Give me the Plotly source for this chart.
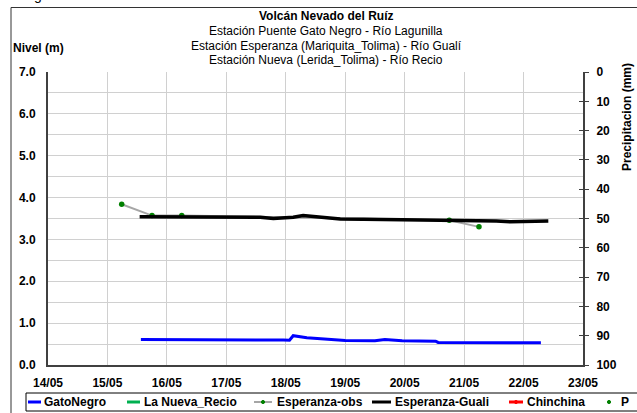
import plotly.graph_objects as go

# GatoNegro level (m)
gato_t = ["2012-05-15 13:30", "2012-05-16 02:40", "2012-05-17 01:40", "2012-05-17 23:00",
          "2012-05-18 01:30", "2012-05-18 03:00", "2012-05-18 08:30", "2012-05-18 17:30",
          "2012-05-19 00:00", "2012-05-19 12:00", "2012-05-19 16:00", "2012-05-19 23:00",
          "2012-05-20 12:30", "2012-05-20 13:30", "2012-05-21 05:30", "2012-05-22 07:00"]
gato_v = [0.61, 0.61, 0.60, 0.595, 0.59, 0.70, 0.65, 0.61,
          0.585, 0.58, 0.61, 0.58, 0.57, 0.54, 0.53, 0.53]

# Esperanza-Guali level (m)
guali_t = ["2012-05-15 13:00", "2012-05-16 13:30", "2012-05-16 17:00", "2012-05-17 05:30",
           "2012-05-17 13:40", "2012-05-17 19:00", "2012-05-17 23:00", "2012-05-18 03:00",
           "2012-05-18 07:00", "2012-05-18 11:00", "2012-05-18 22:00", "2012-05-19 07:30",
           "2012-05-20 01:00", "2012-05-20 10:20", "2012-05-20 17:45", "2012-05-21 02:30",
           "2012-05-21 13:00", "2012-05-21 18:40", "2012-05-22 02:40", "2012-05-22 10:00"]
guali_v = [3.54, 3.54, 3.52, 3.53, 3.53, 3.50, 3.51, 3.53,
           3.57, 3.55, 3.49, 3.48, 3.47, 3.46, 3.46, 3.45,
           3.44, 3.42, 3.43, 3.44]

# Esperanza observed readings (m)
obs_t = ["2012-05-15 05:45", "2012-05-15 18:00", "2012-05-16 06:00",
         "2012-05-20 18:00", "2012-05-21 06:00"]
obs_v = [3.84, 3.57, 3.57, 3.46, 3.30]

day_ticks = ["2012-05-%02d" % d for d in range(14, 24)]
day_labels = ["%02d/05" % d for d in range(14, 24)]

font = "Liberation Sans, Arial, sans-serif"
W, H = 637, 413
L, R, T, B = 48, 54, 72, 48


def px(x):  # figure pixel -> paper x
    return (x - L) / (W - L - R)


def py(y):  # figure pixel -> paper y
    return (H - B - y) / (H - T - B)


fig = go.Figure()
fig.add_trace(go.Scatter(x=obs_t, y=obs_v, name="Esperanza-obs", mode="lines+markers",
                         line=dict(color="#a6a6a6", width=2),
                         marker=dict(color="#008000", size=5.5)))
fig.add_trace(go.Scatter(x=guali_t, y=guali_v, name="Esperanza-Guali", mode="lines",
                         line=dict(color="#000000", width=3.5)))
fig.add_trace(go.Scatter(x=gato_t, y=gato_v, name="GatoNegro", mode="lines",
                         line=dict(color="#0000ff", width=3)))
fig.add_trace(go.Scatter(x=[None], y=[None], name="P", mode="markers", yaxis="y2",
                         marker=dict(color="#008000", size=3)))
fig.add_trace(go.Scatter(x=[None], y=[None], showlegend=False, yaxis="y3"))

right_axis = dict(overlaying="y", side="right", range=[100, 0], dtick=10,
                  showgrid=False, zeroline=False, tickcolor="#404040", ticklen=4)

fig.update_layout(
    width=W, height=H,
    margin=dict(l=L, r=R, t=T, b=B, autoexpand=False),
    paper_bgcolor="white", plot_bgcolor="white",
    font=dict(family=font, size=12, color="black"),
    showlegend=False,
    xaxis=dict(type="date", range=["2012-05-14", "2012-05-23"],
               tickvals=day_ticks, ticktext=day_labels,
               tickfont=dict(size=12, family=font, weight="bold"),
               ticklabelstandoff=6,
               showgrid=True, gridcolor="#d0d0d0", gridwidth=1,
               showline=True, linecolor="#404040", linewidth=2,
               ticks="", zeroline=False),
    yaxis=dict(range=[0, 7], tickvals=[0, 1, 2, 3, 4, 5, 6, 7],
               ticktext=["0.0", "1.0", "2.0", "3.0", "4.0", "5.0", "6.0", "7.0"],
               tickfont=dict(size=12, family=font, weight="bold"),
               ticklabelstandoff=8,
               showgrid=True, gridcolor="#d0d0d0", gridwidth=1,
               minor=dict(dtick=0.5, showgrid=True, gridcolor="#d0d0d0", gridwidth=1),
               showline=True, linecolor="#404040", linewidth=2,
               ticks="", zeroline=False),
    # precipitation axis: outside ticks with labels ...
    yaxis2=dict(right_axis, ticks="outside", ticklabelstandoff=5,
                tickfont=dict(size=12, family=font, weight="bold"),
                showline=True, linecolor="#404040", linewidth=2),
    # ... plus inside ticks so they cross the axis line
    yaxis3=dict(right_axis, ticks="inside", showticklabels=False, showline=False),
)

# outer chart frame
fig.add_shape(type="rect", xref="paper", yref="paper",
              x0=px(11), x1=px(700), y0=py(460), y1=py(7.5),
              line=dict(color="#333333", width=1), fillcolor="rgba(0,0,0,0)")

title_lines = [
    ("<b>Volcán Nevado del Ruíz</b>", 16),
    ("Estación Puente Gato Negro - Río Lagunilla", 31),
    ("Estación Esperanza (Mariquita_Tolima) - Río Gualí", 45.5),
    ("Estación Nueva (Lerida_Tolima) - Río Recio", 60),
]
for txt, yy in title_lines:
    fig.add_annotation(text=txt, xref="paper", yref="paper", x=px(326), y=py(yy),
                       xanchor="center", yanchor="middle", showarrow=False,
                       font=dict(size=12, family=font))

fig.add_annotation(text="<b>Nivel (m)</b>", xref="paper", yref="paper",
                   x=px(11), y=py(48), xanchor="left", yanchor="middle",
                   showarrow=False, font=dict(size=12, family=font))
fig.add_annotation(text="<b>Precipitacion (mm)</b>", xref="paper", yref="paper",
                   x=px(627), y=py(117), xanchor="center", yanchor="middle",
                   textangle=-90, showarrow=False, font=dict(size=12, family=font))
fig.add_annotation(text="g", xref="paper", yref="paper",
                   x=px(38), y=py(5), xanchor="center", yanchor="bottom",
                   showarrow=False, font=dict(size=14, family=font))

# legend box (runs off the right edge, as in the source chart)
leg_top, leg_bot, leg_mid = 393, 411, 402
fig.add_shape(type="rect", xref="paper", yref="paper",
              x0=px(26), x1=px(700), y0=py(leg_bot), y1=py(leg_top),
              line=dict(color="black", width=1), fillcolor="white")

leg_items = [
    # name, line colour, line x0, x1, marker colour, marker x, text x
    ("GatoNegro", "#0000ff", 28, 41, None, 0, 42),
    ("La Nueva_Recio", "#00b050", 127, 140, None, 0, 142),
    ("Esperanza-obs", "#a6a6a6", 254, 272, "#008000", 263, 275),
    ("Esperanza-Guali", "#000000", 372, 391, None, 0, 393),
    ("Chinchina", "#ff0000", 509, 523, "#ff0000", 516, 525),
    ("P", None, 0, 0, "#008000", 609, 619),
]
for name, lc, x0, x1, mc, mx, tx in leg_items:
    if lc:
        fig.add_shape(type="line", xref="paper", yref="paper",
                      x0=px(x0), x1=px(x1), y0=py(leg_mid), y1=py(leg_mid),
                      line=dict(color=lc, width=3 if lc != "#a6a6a6" else 2))
    if mc:
        fig.add_shape(type="circle", xref="paper", yref="paper",
                      x0=px(mx - 1.6), x1=px(mx + 1.6),
                      y0=py(leg_mid + 1.6), y1=py(leg_mid - 1.6),
                      line=dict(color=mc, width=1), fillcolor=mc)
    fig.add_annotation(text="<b>%s</b>" % name, xref="paper", yref="paper",
                       x=px(tx), y=py(leg_mid), xanchor="left", yanchor="middle",
                       showarrow=False, font=dict(size=12, family=font))

# drop the default page margin so the 637x413 figure fills the window exactly
fig.write_html("out.html", config={"displayModeBar": False},
               post_script="document.body.style.margin='0';")
